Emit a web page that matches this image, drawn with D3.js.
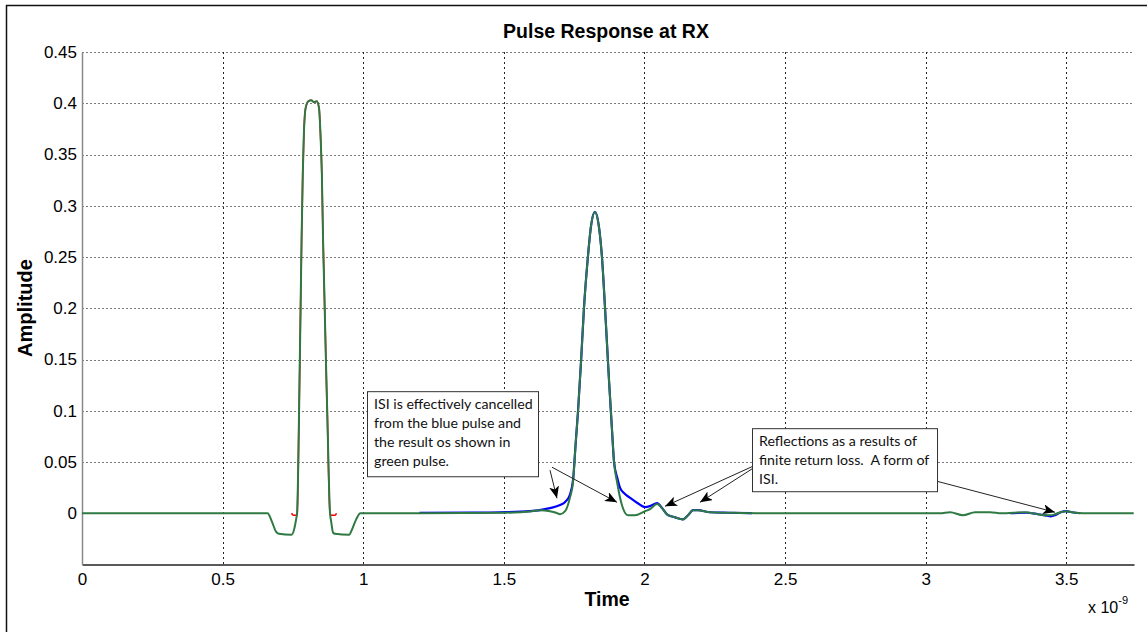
<!DOCTYPE html>
<html>
<head>
<meta charset="utf-8">
<script src="https://cdn.jsdelivr.net/npm/d3@7"></script>
<style>
  html, body { margin: 0; padding: 0; background: #fff; }
  svg { display: block; }
</style>
</head>
<body>
<svg id="chart" width="1148" height="632"></svg>
<script>
// Time axis in units of 1e-9 s, amplitude in normalised units
const xTicks = [0, 0.5, 1, 1.5, 2, 2.5, 3, 3.5];
const yTicks = [0, 0.05, 0.1, 0.15, 0.2, 0.25, 0.3, 0.35, 0.4, 0.45];
const yTickLabels = ["0", "0.05", "0.1", "0.15", "0.2", "0.25", "0.3", "0.35", "0.4", "0.45"];

// Red: original pulse
const redTime = [0.745, 0.752, 0.760, 0.765, 0.772, 0.781, 0.785, 0.789, 0.795, 0.805, 0.815, 0.825, 0.835, 0.843, 0.848, 0.853, 0.857, 0.872, 0.882, 0.888, 0.900, 0.905];
const redAmp  = [0, -0.002, -0.002, 0, 0.1, 0.27, 0.33, 0.37, 0.395, 0.402, 0.403, 0.401, 0.402, 0.395, 0.37, 0.33, 0.27, 0.1, 0, -0.002, -0.002, 0];

// Blue: received pulse with ISI tail
const blueTime = [1.20, 1.38, 1.486, 1.593, 1.664, 1.700, 1.718, 1.735, 1.746, 1.756, 1.764, 1.775, 1.785, 1.799, 1.810, 1.824, 1.838, 1.849, 1.860, 1.874, 1.885, 1.892, 1.903, 1.913, 1.930, 1.949, 1.975, 2.002, 2.020, 2.045, 2.063, 2.080, 2.109, 2.137, 2.155, 2.173, 2.190, 2.233, 2.30, 2.383];
const blueAmp  = [0.0003, 0.0006, 0.001, 0.002, 0.005, 0.008, 0.011, 0.018, 0.032, 0.07, 0.10, 0.15, 0.20, 0.25, 0.28, 0.294, 0.28, 0.25, 0.20, 0.13, 0.08, 0.05, 0.035, 0.025, 0.019, 0.015, 0.010, 0.006, 0.007, 0.010, 0.005, -0.001, -0.004, -0.006, -0.002, 0.003, 0.003, 0.001, 0.0005, 0];
const blueTime2 = [3.30, 3.36, 3.40, 3.425, 3.445, 3.46, 3.48, 3.50, 3.52, 3.55];
const blueAmp2  = [0, 0.0005, -0.001, -0.002, -0.003, -0.002, 0.001, 0.002, 0.001, 0];

// Green: equalised result
const greenTime = [0, 0.66, 0.675, 0.690, 0.700, 0.745, 0.755, 0.762, 0.765, 0.772, 0.781, 0.785, 0.789, 0.795, 0.805, 0.815, 0.825, 0.835, 0.843, 0.848, 0.853, 0.857, 0.872, 0.882, 0.886, 0.893, 0.900, 0.950, 0.960, 0.975, 0.990,
  1.20, 1.50, 1.60, 1.629, 1.664, 1.686, 1.700, 1.718, 1.735, 1.746, 1.756, 1.764, 1.775, 1.785, 1.799, 1.810, 1.824, 1.838, 1.849, 1.860, 1.874, 1.885, 1.892, 1.903, 1.920, 1.942, 1.966, 2.002, 2.020, 2.045, 2.063, 2.080, 2.109, 2.137, 2.155, 2.173, 2.190, 2.233, 2.30, 2.40,
  3.00, 3.051, 3.087, 3.133, 3.176, 3.229, 3.27, 3.353, 3.40, 3.425, 3.445, 3.46, 3.48, 3.50, 3.52, 3.56, 3.74];
const greenAmp  = [0, 0, -0.008, -0.018, -0.020, -0.021, -0.015, -0.005, 0, 0.1, 0.27, 0.33, 0.37, 0.395, 0.402, 0.403, 0.401, 0.402, 0.395, 0.37, 0.33, 0.27, 0.1, 0, -0.008, -0.019, -0.020, -0.021, -0.016, -0.006, 0,
  0, 0.0005, 0.002, 0.003, 0.002, 0.0005, -0.001, 0.002, 0.015, 0.03, 0.07, 0.10, 0.15, 0.20, 0.25, 0.28, 0.294, 0.28, 0.25, 0.20, 0.13, 0.08, 0.05, 0.03, 0.008, -0.002, -0.002, 0.002, 0.004, 0.009, 0.005, -0.001, -0.004, -0.006, -0.002, 0.003, 0.003, 0.001, 0.0005, 0,
  0, 0, 0.001, -0.002, 0.001, 0.001, 0, 0.001, -0.001, -0.002, -0.002, -0.001, 0.001, 0.002, 0.001, 0, 0];

// Text call-outs, placed in data units
const noteBoxes = [
  { t0: 1.0135, t1: 1.6216, a0: 0.1191, a1: 0.0361,
    lines: ["ISI is effectively cancelled", "from the blue pulse and", "the result os shown in", "green pulse."] },
  { t0: 2.3826, t1: 3.0405, a0: 0.0830, a1: 0.0215,
    lines: ["Reflections as a results of", "finite return loss.  A form of", "ISI."] }
];
const noteArrows = [
  { fromT: 1.6643, fromA: 0.0420, toT: 1.689,  toA: 0.0146 },
  { fromT: 1.6714, fromA: 0.0449, toT: 1.9026, toA: 0.0107 },
  { fromT: 2.3862, fromA: 0.0459, toT: 2.0733, toA: 0.0068 },
  { fromT: 2.3862, fromA: 0.0439, toT: 2.1977, toA: 0.0107 },
  { fromT: 3.0405, fromA: 0.0312, toT: 3.460,  toA: 0.0010 }
];

const svg = d3.select("#chart");
const W = 1148, H = 632;
const plot = { left: 82, right: 1134, top: 52, bottom: 564.5 };

const x = d3.scaleLinear().domain([0, 3.741]).range([plot.left, plot.right]);
const y = d3.scaleLinear().domain([-0.05, 0.45]).range([plot.bottom, plot.top]);
const FONT = "Liberation Sans, Arial, sans-serif";

// Outer frame
svg.append("line").attr("x1", 6).attr("x2", 1147).attr("y1", 5.5).attr("y2", 5.5)
  .attr("stroke", "#111").attr("stroke-width", 1.5);
svg.append("line").attr("x1", 6.5).attr("x2", 6.5).attr("y1", 5).attr("y2", H)
  .attr("stroke", "#111").attr("stroke-width", 1.5);

// Grid
const grid = svg.append("g");
grid.selectAll("line.hg").data(yTicks.filter(v => v !== 0)).join("line")
  .attr("class", "hg")
  .attr("x1", plot.left).attr("x2", plot.right)
  .attr("y1", d => Math.round(y(d)) + 0.5).attr("y2", d => Math.round(y(d)) + 0.5)
  .attr("stroke", "#7a7a7a").attr("stroke-width", 1).attr("stroke-dasharray", "2,2");
grid.selectAll("line.vg").data(xTicks.filter(v => v !== 0)).join("line")
  .attr("class", "vg")
  .attr("x1", d => Math.round(x(d)) + 0.5).attr("x2", d => Math.round(x(d)) + 0.5)
  .attr("y1", plot.top).attr("y2", plot.bottom)
  .attr("stroke", "#222").attr("stroke-width", 1).attr("stroke-dasharray", "2,3");

// Axes
const xAxis = d3.axisBottom(x).tickValues(xTicks).tickSize(0).tickPadding(8)
  .tickFormat(d => d3.format("")(d));
const gx = svg.append("g").attr("transform", `translate(0,${plot.bottom})`).call(xAxis);
gx.select(".domain").attr("stroke", "#222").attr("stroke-width", 1.5);
gx.selectAll("text").attr("font-family", FONT).attr("font-size", 17).attr("fill", "#000");

const yAxis = d3.axisLeft(y).tickValues(yTicks).tickSize(0).tickPadding(5)
  .tickFormat((d, i) => yTickLabels[i]);
const gy = svg.append("g").attr("transform", `translate(${plot.left},0)`).call(yAxis);
gy.select(".domain").attr("stroke", "#8a8a8a").attr("stroke-width", 1.5);
gy.selectAll("text").attr("font-family", FONT).attr("font-size", 17).attr("fill", "#000");

// Series
const line = d3.line().x(d => x(d[0])).y(d => y(d[1])).curve(d3.curveMonotoneX);
const zipPts = (ts, as) => ts.map((t, i) => [t, as[i]]);

const defs = svg.append("defs");
defs.append("clipPath").attr("id", "clip")
  .append("rect").attr("x", plot.left).attr("y", plot.top)
  .attr("width", plot.right - plot.left).attr("height", plot.bottom - plot.top);
const series = svg.append("g").attr("clip-path", "url(#clip)");

series.append("path").datum(zipPts(redTime, redAmp)).attr("d", line)
  .attr("fill", "none").attr("stroke", "#ff0000").attr("stroke-width", 1.6);
series.append("path").datum(zipPts(blueTime, blueAmp)).attr("d", line)
  .attr("fill", "none").attr("stroke", "#0000ff").attr("stroke-width", 2.2);
series.append("path").datum(zipPts(blueTime2, blueAmp2)).attr("d", line)
  .attr("fill", "none").attr("stroke", "#0000ff").attr("stroke-width", 2.2);
series.append("path").datum(zipPts(greenTime, greenAmp)).attr("d", line)
  .attr("fill", "none").attr("stroke", "#2e7a42").attr("stroke-width", 2)
  .attr("stroke-linejoin", "round");

// Annotation arrows
defs.append("marker").attr("id", "head")
  .attr("viewBox", "0 0 12 10").attr("refX", 12).attr("refY", 5)
  .attr("markerWidth", 12).attr("markerHeight", 10).attr("markerUnits", "userSpaceOnUse")
  .attr("orient", "auto")
  .append("path").attr("d", "M0,0 L12,5 L0,10 L3,5 Z").attr("fill", "#000");

svg.append("g").selectAll("line").data(noteArrows).join("line")
  .attr("x1", d => x(d.fromT)).attr("y1", d => y(d.fromA))
  .attr("x2", d => x(d.toT)).attr("y2", d => y(d.toA))
  .attr("stroke", "#222").attr("stroke-width", 1)
  .attr("marker-end", "url(#head)");

// Annotation boxes
const notes = svg.append("g").selectAll("g").data(noteBoxes).join("g");
notes.append("rect")
  .attr("x", d => x(d.t0) + 0.5).attr("y", d => y(d.a0) + 0.5)
  .attr("width", d => x(d.t1) - x(d.t0)).attr("height", d => y(d.a1) - y(d.a0))
  .attr("fill", "#fff").attr("stroke", "#333").attr("stroke-width", 1);
notes.each(function(d) {
  const g = d3.select(this);
  d.lines.forEach((s, i) => {
    g.append("text")
      .attr("x", x(d.t0) + 7).attr("y", y(d.a0) + 18 + i * 19)
      .attr("font-family", "Lato, 'Open Sans', sans-serif").attr("font-size", 14.2)
      .attr("fill", "#111").attr("xml:space", "preserve").text(s);
  });
});

// Titles
svg.append("text").attr("x", 606).attr("y", 38).attr("text-anchor", "middle")
  .attr("font-family", FONT).attr("font-weight", "bold")
  .attr("font-size", 19.5).text("Pulse Response at RX");
svg.append("text").attr("x", 607).attr("y", 606).attr("text-anchor", "middle")
  .attr("font-family", FONT).attr("font-weight", "bold")
  .attr("font-size", 19.5).text("Time");
svg.append("text").attr("transform", "translate(32,308) rotate(-90)").attr("text-anchor", "middle")
  .attr("font-family", FONT).attr("font-weight", "bold")
  .attr("font-size", 20).text("Amplitude");

const expo = svg.append("text").attr("x", 1088).attr("y", 613)
  .attr("font-family", FONT).attr("font-size", 16);
expo.append("tspan").text("x 10");
expo.append("tspan").attr("dy", -9).attr("font-size", 11).text("-9");
</script>
</body>
</html>
